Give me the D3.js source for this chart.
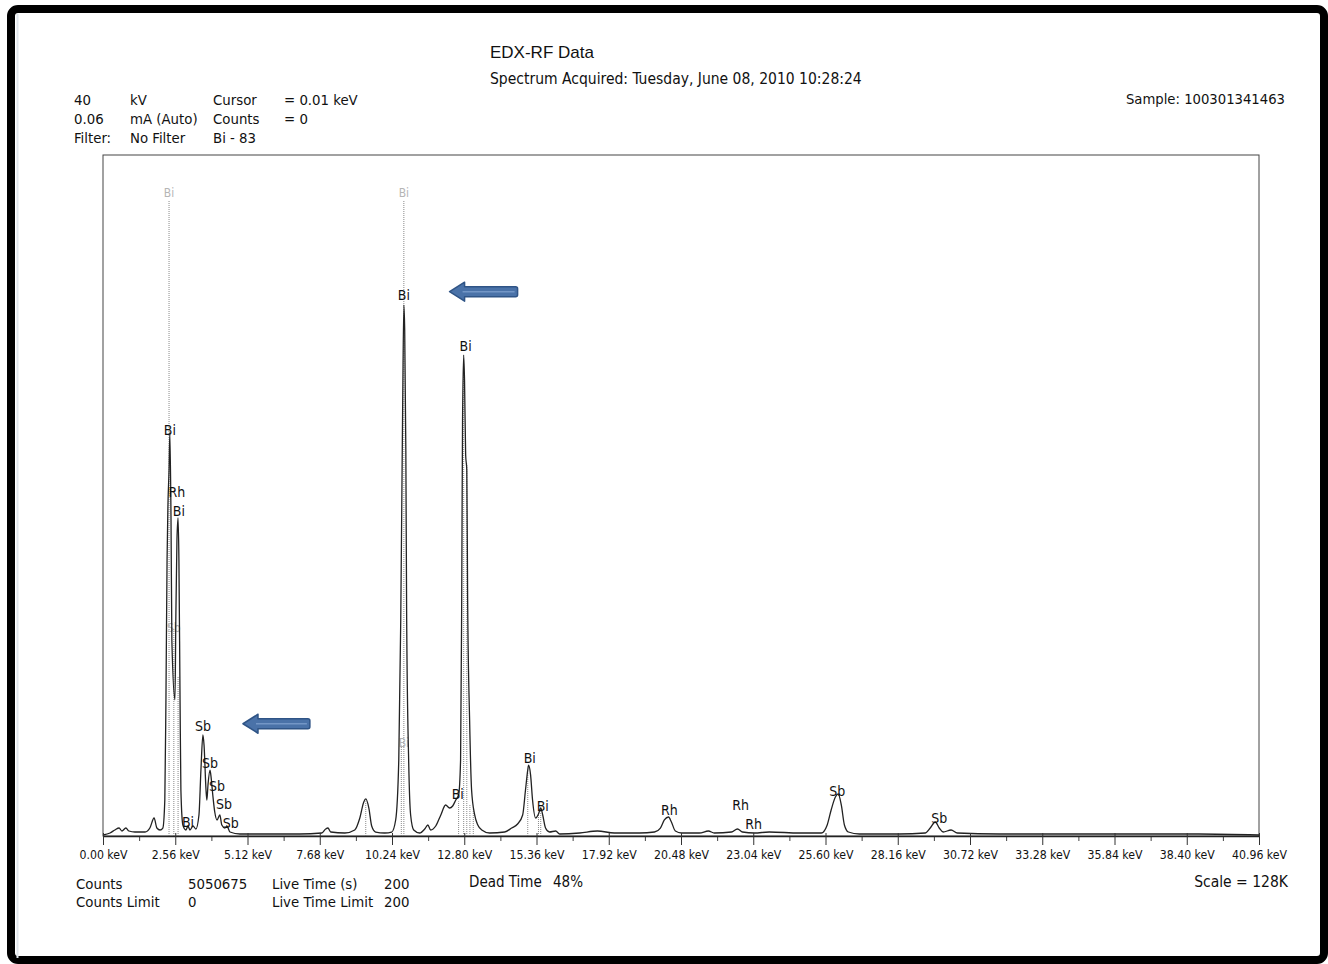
<!DOCTYPE html>
<html>
<head>
<meta charset="utf-8">
<script src="https://cdn.jsdelivr.net/npm/d3@7/dist/d3.min.js"></script>
<style>
    body { margin: 0; background: #fff; }
    svg text { font-family: "DejaVu Sans Condensed", "DejaVu Sans", sans-serif; fill: #111; }
</style>
</head>
<body>
<svg id="chart" width="1328" height="964"></svg>
<script>
// spectrum: [energy keV, counts in K]
var spectrum = [
    [0.00, 0.19], [0.25, 0.56], [0.42, 1.13], [0.57, 1.50], [0.67, 0.94], [0.81, 1.50], [0.92, 0.94],
    [1.13, 0.75], [1.49, 0.75], [1.66, 1.50], [1.81, 3.38], [1.91, 1.50], [2.02, 1.13], [2.12, 1.50],
    [2.19, 6.77], [2.23, 25.6], [2.27, 51.9], [2.30, 61.9], [2.34, 68.8], [2.37, 75.8], [2.41, 59.4],
    [2.44, 36.8], [2.55, 25.6], [2.58, 40.6], [2.62, 55.6], [2.66, 59.8], [2.69, 51.9], [2.73, 25.6],
    [2.76, 8.65], [2.83, 2.07], [2.94, 1.13], [3.01, 1.88], [3.08, 1.13], [3.19, 1.88], [3.29, 1.32],
    [3.40, 3.95], [3.47, 12.4], [3.54, 19.0], [3.58, 17.1], [3.65, 8.65], [3.68, 6.77], [3.72, 9.59],
    [3.79, 12.4], [3.82, 11.5], [3.89, 7.71], [3.96, 4.51], [4.04, 3.01], [4.14, 3.95], [4.21, 2.07],
    [4.32, 1.50], [4.39, 1.88], [4.50, 0.75], [4.85, 0.38], [5.56, 0.38], [6.97, 0.38], [7.75, 0.56],
    [7.89, 1.32], [7.97, 1.50], [8.07, 0.75], [8.57, 0.56], [8.92, 1.13], [9.10, 3.38], [9.24, 6.39],
    [9.31, 6.96], [9.42, 5.26], [9.52, 1.88], [9.66, 0.75], [9.98, 0.56], [10.23, 0.75], [10.37, 3.01],
    [10.48, 14.3], [10.55, 40.6], [10.62, 82.0], [10.66, 99.8], [10.69, 95.1], [10.73, 72.6], [10.76, 40.6],
    [10.83, 14.3], [10.90, 3.95], [11.01, 1.13], [11.22, 0.56], [11.40, 1.32], [11.51, 2.07], [11.61, 1.13],
    [11.79, 1.88], [11.97, 3.95], [12.14, 5.83], [12.28, 5.26], [12.39, 5.64], [12.50, 6.77], [12.60, 7.71],
    [12.67, 14.3], [12.71, 44.4], [12.74, 78.2], [12.78, 90.4], [12.81, 85.7], [12.85, 71.6], [12.89, 68.8],
    [12.92, 44.4], [12.99, 21.8], [13.06, 8.65], [13.17, 3.95], [13.28, 2.07], [13.42, 1.13], [13.70, 0.56],
    [14.23, 0.75], [14.48, 1.50], [14.69, 2.26], [14.87, 3.95], [14.97, 8.65], [15.05, 12.4], [15.08, 13.3],
    [15.15, 11.5], [15.22, 6.77], [15.33, 3.38], [15.43, 4.14], [15.51, 5.26], [15.58, 3.95], [15.68, 1.50],
    [15.82, 0.75], [16.04, 0.94], [16.18, 0.38], [16.89, 0.56], [17.52, 0.94], [18.12, 0.56], [19.01, 0.56],
    [19.54, 0.75], [19.75, 1.50], [19.89, 3.01], [20.04, 3.57], [20.14, 2.63], [20.28, 0.94], [20.50, 0.56],
    [21.13, 0.56], [21.45, 0.94], [21.66, 0.56], [22.27, 0.75], [22.48, 1.32], [22.66, 0.75], [23.08, 0.56],
    [23.61, 0.75], [24.67, 0.56], [25.45, 0.56], [25.66, 2.07], [25.80, 4.89], [25.95, 7.33], [26.05, 7.90],
    [26.16, 5.83], [26.27, 2.07], [26.41, 0.75], [26.80, 0.38], [28.21, 0.38], [29.13, 0.56], [29.31, 1.50],
    [29.49, 2.63], [29.63, 1.50], [29.77, 0.75], [30.05, 1.13], [30.27, 0.56], [31.75, 0.38], [35.29, 0.38],
    [38.83, 0.38], [40.96, 0.19]
];

// element line labels
var peakNames  = ["Bi", "Rh", "Bi", "Bi", "Sb", "Sb", "Sb", "Sb", "Sb", "Bi", "Bi", "Bi", "Bi", "Bi", "Rh", "Rh", "Rh", "Sb", "Sb"];
var peakKeV    = [2.37, 2.62, 2.69, 3.01, 3.54, 3.79, 4.04, 4.29, 4.53, 10.66, 12.85, 12.57, 15.12, 15.58, 20.07, 22.59, 23.05, 26.02, 29.63];
var peakLabelK = [76.3, 64.7, 61.1, 2.6, 20.7, 13.7, 9.4, 6.0, 2.4, 101.7, 92.1, 7.9, 14.7, 5.6, 4.9, 5.8, 2.3, 8.5, 3.4];

// dotted cursor / line markers: energy and top (K)
var markerKeV = [2.34, 2.51, 2.66, 10.66, 10.57, 12.60, 12.78, 12.89, 13.00, 13.12, 15.05, 15.43, 15.51, 9.31];
var markerTop = [119.5, 39.0, 30.0, 119.5, 17.0, 6.5, 88.0, 70.0, 6.0, 5.0, 12.0, 4.0, 5.0, 6.5];
var faintNames = ["Bi", "Bi", "Sb", "Bi"];
var faintKeV   = [2.34, 10.66, 2.51, 10.66];
var faintK     = [120.9, 120.9, 39.1, 17.5];

var tickKeV  = [0, 2.56, 5.12, 7.68, 10.24, 12.80, 15.36, 17.92, 20.48, 23.04, 25.60, 28.16, 30.72, 33.28, 35.84, 38.40, 40.96];
var minorKeV = [1.28, 3.84, 6.40, 8.96, 11.52, 14.08, 16.64, 19.20, 21.76, 24.32, 26.88, 29.44, 32.00, 34.56, 37.12, 39.68];

// blue annotation arrows: tip keV, tail keV, level K
var arrowTip  = [12.28, 4.96];
var arrowTail = [14.69, 7.33];
var arrowK    = [102.3, 21.1];

var headerRows = [
    ["40", "kV", "Cursor", "= 0.01 keV"],
    ["0.06", "mA (Auto)", "Counts", "= 0"],
    ["Filter:", "No Filter", "Bi - 83", ""]
];
var footerRows = [
    ["Counts", "5050675", "Live Time (s)", "200"],
    ["Counts Limit", "0", "Live Time Limit", "200"]
];

var margin = { top: 155, left: 103, right: 1259, bottom: 836 };

var svg = d3.select("#chart");

// scanned page frame + faint scan edge
svg.append("rect")
    .attr("x", 11).attr("y", 9)
    .attr("width", 1313).attr("height", 951)
    .attr("rx", 7)
    .attr("fill", "none")
    .attr("stroke", "#000")
    .attr("stroke-width", 8);
svg.append("line")
    .attr("x1", 17.5).attr("x2", 17.5)
    .attr("y1", 14).attr("y2", 958)
    .attr("stroke", "#dfe5ec")
    .attr("stroke-width", 2);

var x = d3.scaleLinear().domain([0, 40.96]).range([margin.left, margin.right]);
var y = d3.scaleLinear().domain([0, 128]).range([margin.bottom, margin.top]);

// header
svg.append("text").attr("x", 490).attr("y", 58)
    .style("font-family", "'Liberation Sans', Arial, sans-serif")
    .style("font-size", "17px")
    .text("EDX-RF Data");
svg.append("text").attr("x", 490).attr("y", 84)
    .style("font-size", "15.5px")
    .text("Spectrum Acquired: Tuesday, June 08, 2010 10:28:24");
svg.append("text").attr("x", 1285).attr("y", 104)
    .attr("text-anchor", "end")
    .style("font-size", "14.7px")
    .text("Sample: 100301341463");

var colX = [74, 130, 213, 284];
headerRows.forEach(function(row, i) {
    row.forEach(function(t, j) {
        svg.append("text")
            .attr("x", colX[j])
            .attr("y", 105 + i * 19)
            .style("font-size", "14.8px")
            .text(t);
    });
});

var footX = [76, 188, 272, 384];
footerRows.forEach(function(row, i) {
    row.forEach(function(t, j) {
        svg.append("text")
            .attr("x", footX[j])
            .attr("y", 889 + i * 18)
            .style("font-size", "14.8px")
            .text(t);
    });
});
svg.append("text").attr("x", 469).attr("y", 887)
    .style("font-size", "15px")
    .text("Dead Time");
svg.append("text").attr("x", 553).attr("y", 887)
    .style("font-size", "15px")
    .text("48%");
svg.append("text").attr("x", 1288).attr("y", 887)
    .attr("text-anchor", "end")
    .style("font-size", "15.5px")
    .text("Scale = 128K");

// plot frame
svg.append("rect")
    .attr("x", margin.left).attr("y", margin.top)
    .attr("width", margin.right - margin.left)
    .attr("height", margin.bottom - margin.top)
    .attr("fill", "none")
    .attr("stroke", "#444")
    .attr("stroke-width", 1);

// dotted markers
svg.append("g").selectAll("line")
    .data(markerKeV)
    .enter().append("line")
    .attr("x1", function(d) { return x(d); })
    .attr("x2", function(d) { return x(d); })
    .attr("y1", y(0))
    .attr("y2", function(d, i) { return y(markerTop[i]); })
    .attr("stroke", "#8a8a8a")
    .attr("stroke-width", 1)
    .attr("stroke-dasharray", "1,1");

svg.append("g").selectAll("text")
    .data(faintNames)
    .enter().append("text")
    .attr("x", function(d, i) { return x(faintKeV[i]); })
    .attr("y", function(d, i) { return y(faintK[i]); })
    .attr("dy", "0.35em")
    .attr("text-anchor", "middle")
    .style("font-size", "12px")
    .style("fill", "#b5b5b5")
    .text(function(d) { return d; });

// spectrum
var line = d3.line()
    .x(function(d) { return x(d[0]); })
    .y(function(d) { return y(d[1]); })
    .curve(d3.curveMonotoneX);

svg.append("path")
    .datum(spectrum)
    .attr("d", line)
    .attr("fill", "none")
    .attr("stroke", "#222")
    .attr("stroke-width", 1.3);

// peak labels
svg.append("g").selectAll("text")
    .data(peakNames)
    .enter().append("text")
    .attr("x", function(d, i) { return x(peakKeV[i]); })
    .attr("y", function(d, i) { return y(peakLabelK[i]); })
    .attr("dy", "0.35em")
    .attr("text-anchor", "middle")
    .style("font-size", "14px")
    .text(function(d) { return d; });

// x axis: minor then major ticks
svg.append("g")
    .attr("transform", "translate(0," + margin.bottom + ")")
    .call(d3.axisBottom(x)
        .tickValues(minorKeV)
        .tickSize(5)
        .tickFormat(""))
    .call(function(g) { g.select(".domain").remove(); })
    .selectAll("line").attr("stroke", "#444");

var xAxis = svg.append("g")
    .attr("transform", "translate(0," + margin.bottom + ")")
    .call(d3.axisBottom(x)
        .tickValues(tickKeV)
        .tickSizeInner(9)
        .tickSizeOuter(0)
        .tickPadding(5)
        .tickFormat(function(d) { return d3.format(".2f")(d) + " keV"; }));
xAxis.select(".domain").attr("stroke", "#222").attr("stroke-width", 1.5);
xAxis.selectAll(".tick line").attr("stroke", "#333").attr("y1", -3);
xAxis.selectAll("text")
    .style("font-family", "'DejaVu Sans Condensed', 'DejaVu Sans', sans-serif")
    .style("font-size", "12.2px")
    .attr("fill", "#111");

// annotation arrows
arrowTip.forEach(function(t, i) {
    var tx = x(t), ex = x(arrowTail[i]), cy = y(arrowK[i]);
    var hw = 9.5, bw = 5, hl = 15;
    var p = "M" + tx + "," + cy +
        " L" + (tx + hl) + "," + (cy - hw) +
        " L" + (tx + hl) + "," + (cy - bw) +
        " L" + (ex - 2) + "," + (cy - bw) +
        " Q" + ex + "," + (cy - bw) + " " + ex + "," + (cy - bw + 2) +
        " L" + ex + "," + (cy + bw - 2) +
        " Q" + ex + "," + (cy + bw) + " " + (ex - 2) + "," + (cy + bw) +
        " L" + (tx + hl) + "," + (cy + bw) +
        " L" + (tx + hl) + "," + (cy + hw) + " Z";
    svg.append("path")
        .attr("d", p)
        .attr("fill", "#4a72a8")
        .attr("stroke", "#2f5486")
        .attr("stroke-width", 1.5)
        .attr("stroke-linejoin", "round");
    svg.append("line")
        .attr("x1", tx + hl - 2).attr("x2", ex - 3)
        .attr("y1", cy).attr("y2", cy)
        .attr("stroke", "#7396c6")
        .attr("stroke-width", 1.5);
});
</script>
</body>
</html>
